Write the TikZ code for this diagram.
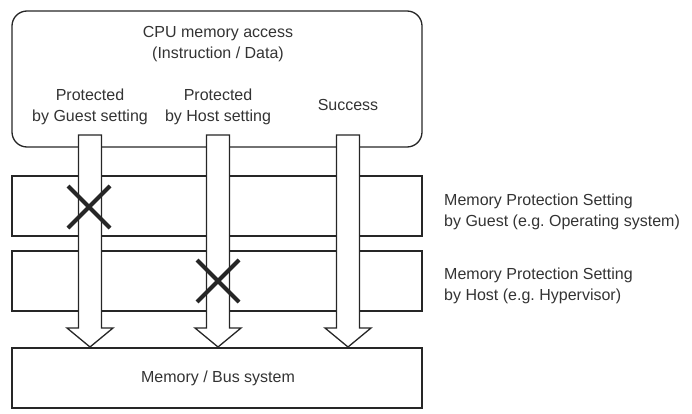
\documentclass[tikz,border=0pt]{standalone}
\usepackage{fontspec}
\setmainfont{Liberation Sans}
\usetikzlibrary{calc}
\frenchspacing
\begin{document}
\begin{tikzpicture}[x=1pt,y=-1pt,
  boxline/.style={draw=black!85,line width=1.3pt},
  lbl/.style={font=\fontsize{16}{21.5}\selectfont,text=black!80,align=center,inner sep=0pt},
  rlbl/.style={font=\fontsize{16}{21.5}\selectfont,text=black!80,align=left,anchor=west,inner sep=0pt},
  blk/.style={draw=black!85,fill=white,line width=1.3pt,line join=miter},
  cross/.style={draw=black!85,line width=4pt}]
\useasboundingbox (0,0) rectangle (692,414);
% boxes
\draw[boxline,rounded corners=15pt] (12,11) rectangle (422,147);
\node[lbl] (cpu) at (218,44) {CPU memory access\\(Instruction / Data)};
\node[lbl] (pg) at (90,107) {Protected\\by Guest setting};
\node[lbl] (ph) at (218,107) {Protected\\by Host setting};
\node[lbl] (succ) at (348,105) {Success};
\draw[boxline] (12,176) rectangle (422,236);
\draw[boxline] (12,251) rectangle (422,311);
\draw[boxline] (12,348) rectangle (422,408);
\node[lbl] (mem) at (218,378) {Memory / Bus system};
\node[rlbl] (gtxt) at (444,212) {Memory Protection Setting\\by Guest (e.g. Operating system)};
\node[rlbl] (htxt) at (444,286) {Memory Protection Setting\\by Host (e.g. Hypervisor)};
% block arrows
\foreach \n/\cx in {a/90,b/218,c/348}{
  \coordinate (\n s) at (\cx,135);
  \coordinate (\n t) at (\cx,347);
  \draw[blk] ($(\n s)+(-11.5,0)$) -- ($(\n s)+(11.5,0)$) -- ($(\n t)+(11.5,-19)$)
     -- ($(\n t)+(23,-19)$) -- (\n t) -- ($(\n t)+(-23,-19)$) -- ($(\n t)+(-11.5,-19)$) -- cycle;
}
% crosses
\coordinate (x1) at (89,207);
\coordinate (x2) at (218,281);
\foreach \c in {x1,x2}{
  \draw[cross] ($(\c)+(-21,-21)$) -- ($(\c)+(21,21)$);
  \draw[cross] ($(\c)+(-21,21)$) -- ($(\c)+(21,-21)$);
}
\end{tikzpicture}
\end{document}
